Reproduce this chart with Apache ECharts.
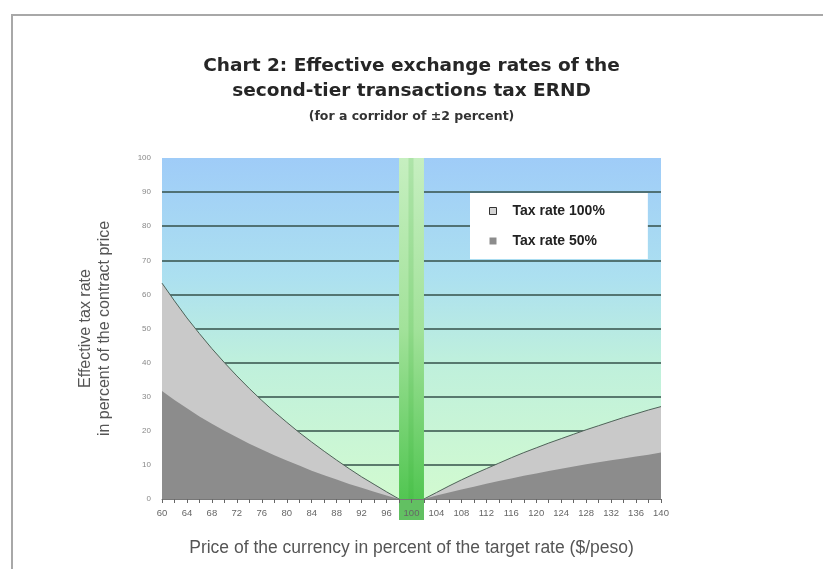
<!DOCTYPE html>
<html>
<head>
<meta charset="utf-8">
<script src="https://cdn.jsdelivr.net/npm/echarts@6/dist/echarts.min.js"></script>
<style>
  html, body { margin: 0; padding: 0; background: #fff; }
  #frame { position: absolute; left: 11px; top: 14px; width: 830px; height: 600px;
           border-left: 2px solid #a8a8a8; border-top: 2px solid #a8a8a8; }
  #chart { position: absolute; left: 0; top: 0; width: 823px; height: 569px; }
</style>
</head>
<body>
<div id="frame"></div>
<div id="chart"></div>
<script>
// Price of the currency, percent of the target rate ($/peso)
const prices = [60, 62, 64, 66, 68, 70, 72, 74, 76, 78, 80, 82, 84, 86, 88, 90, 92, 94, 96, 98,
                100, 102, 104, 106, 108, 110, 112, 114, 116, 118, 120, 122, 124, 126, 128, 130,
                132, 134, 136, 138, 140];

// Effective tax rate (% of contract price) with a 100% tax rate
const taxRate100 = [63.3, 58.1, 53.1, 48.5, 44.1, 40.0, 36.1, 32.4, 28.9, 25.6, 22.5, 19.5, 16.7,
                    14.0, 11.4, 8.9, 6.5, 4.3, 2.1, 0, 0, 0, 1.9, 3.8, 5.6, 7.3, 8.9, 10.5, 12.1,
                    13.6, 15.0, 16.4, 17.7, 19.0, 20.3, 21.5, 22.7, 23.9, 25.0, 26.1, 27.1];

// Effective tax rate (% of contract price) with a 50% tax rate
const taxRate50 = [31.7, 29.0, 26.6, 24.2, 22.1, 20.0, 18.1, 16.2, 14.5, 12.8, 11.3, 9.8, 8.3,
                   7.0, 5.7, 4.4, 3.3, 2.1, 1.0, 0, 0, 0, 1.0, 1.9, 2.8, 3.6, 4.5, 5.3, 6.0,
                   6.8, 7.5, 8.2, 8.9, 9.5, 10.2, 10.8, 11.4, 11.9, 12.5, 13.0, 13.6];

// Target-rate corridor (±2 percent)
const corridor = [98, 102];

const seriesNames = ['Tax rate 100%', 'Tax rate 50%'];
const yTicks = { min: 0, max: 100, interval: 10 };

const chart = echarts.init(document.getElementById('chart'), null, { renderer: 'canvas' });
const categories = prices.map(String);
const corridorIdx = corridor.map(p => prices.indexOf(p));

const option = {
  animation: false,
  title: [
    {
      text: 'Chart 2: Effective exchange rates of the\nsecond-tier transactions tax ERND',
      left: 'center', top: 49,
      textStyle: { fontFamily: 'DejaVu Sans', fontWeight: 'bold', fontSize: 18.5,
                   lineHeight: 25, color: '#262626' }
    },
    {
      text: '(for a corridor of \u00b12 percent)',
      left: 'center', top: 105,
      textStyle: { fontFamily: 'DejaVu Sans', fontWeight: 'bold', fontSize: 12.5,
                   color: '#333' }
    }
  ],
  legend: {
    orient: 'vertical',
    left: 470, top: 193,
    backgroundColor: '#ffffff',
    padding: [11, 43, 11, 19],
    itemGap: 16,
    itemWidth: 7, itemHeight: 7,
    textStyle: { fontFamily: 'Liberation Sans', fontWeight: 'bold', fontSize: 14,
                 color: '#222', padding: [0, 0, 0, 11] },
    data: [
      { name: seriesNames[0], icon: 'rect',
        itemStyle: { color: '#d4d4d4', borderColor: '#333', borderWidth: 1 } },
      { name: seriesNames[1], icon: 'rect', itemStyle: { color: '#8c8c8c' } }
    ]
  },
  grid: {
    left: 162, right: 162, top: 158, bottom: 70,
    show: true, borderWidth: 0,
    backgroundColor: new echarts.graphic.LinearGradient(0, 0, 0, 1, [
      { offset: 0, color: '#9fccf8' },
      { offset: 0.35, color: '#ace0f0' },
      { offset: 0.6, color: '#bff0dc' },
      { offset: 1, color: '#d2fad0' }
    ])
  },
  xAxis: {
    type: 'category',
    data: categories,
    boundaryGap: false,
    z: 10,
    name: 'Price of the currency in percent of the target rate ($/peso)',
    nameLocation: 'middle',
    nameGap: 40,
    nameTextStyle: { fontFamily: 'Liberation Sans', fontSize: 17.5, color: '#555' },
    axisLine: { lineStyle: { color: '#777', width: 1 } },
    axisTick: { interval: 0, length: 4, lineStyle: { color: '#666' } },
    axisLabel: { interval: 1, margin: 9, fontFamily: 'Liberation Sans', fontSize: 9.5,
                 color: '#666' },
    splitLine: { show: false }
  },
  yAxis: {
    type: 'value',
    min: yTicks.min, max: yTicks.max, interval: yTicks.interval,
    name: 'Effective tax rate\nin percent of the contract price',
    nameLocation: 'middle',
    nameGap: 48,
    nameRotate: 90,
    nameTextStyle: { fontFamily: 'Liberation Sans', fontSize: 16, color: '#555',
                     lineHeight: 19 },
    axisLine: { show: false },
    axisTick: { show: false },
    axisLabel: { margin: 11, fontFamily: 'Liberation Sans', fontSize: 8, color: '#888' },
    splitLine: { show: true, showMinLine: false, showMaxLine: false,
                 lineStyle: { color: '#34504a', width: 1.5 } }
  },
  series: [
    {
      name: seriesNames[0],
      type: 'line',
      data: taxRate100,
      symbol: 'none',
      z: 2,
      lineStyle: { color: '#4e6258', width: 1 },
      itemStyle: { color: '#d4d4d4' },
      areaStyle: { color: '#c9c9c9', opacity: 1 }
    },
    {
      name: seriesNames[1],
      type: 'line',
      data: taxRate50,
      symbol: 'none',
      z: 3,
      lineStyle: { width: 0 },
      itemStyle: { color: '#8c8c8c' },
      areaStyle: { color: '#8c8c8c', opacity: 1 }
    },
    {
      // corridor band around the target rate, running on below the axis line
      type: 'custom',
      z: 4,
      silent: true,
      clip: false,
      data: [[corridorIdx[0], corridorIdx[1]]],
      renderItem: function (params, api) {
        const topLeft = api.coord([api.value(0), yTicks.max]);
        const botRight = api.coord([api.value(1), yTicks.min]);
        const x = topLeft[0], y = topLeft[1];
        const w = botRight[0] - topLeft[0], h = botRight[1] - topLeft[1];
        const mid = x + w / 2;
        return {
          type: 'group',
          children: [
            {
              type: 'rect',
              shape: { x: x, y: y, width: w, height: h },
              style: {
                fill: new echarts.graphic.LinearGradient(0, 0, 0, 1, [
                  { offset: 0, color: '#c6efc0' },
                  { offset: 0.5, color: '#a2e29a' },
                  { offset: 1, color: '#52c652' }
                ])
              }
            },
            {
              type: 'rect',
              shape: { x: mid - 3, y: y, width: 5, height: h },
              style: { fill: 'rgba(40,170,40,0.15)' }
            },
            {
              type: 'rect',
              shape: { x: x, y: botRight[1], width: w, height: 21 },
              style: { fill: '#62c062' }
            }
          ]
        };
      }
    }
  ]
};

chart.setOption(option);
</script>
</body>
</html>
